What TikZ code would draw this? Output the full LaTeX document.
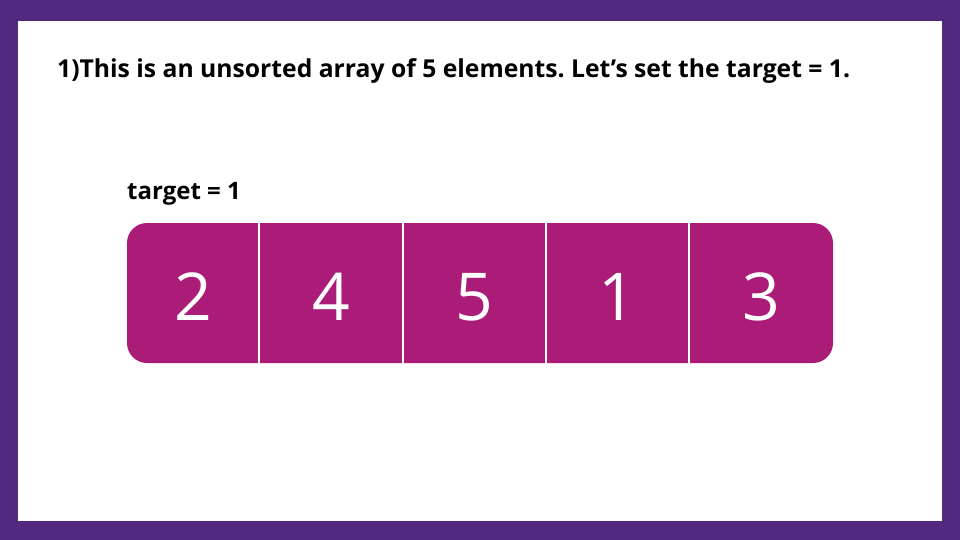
\documentclass[tikz,border=0pt]{standalone}
\usepackage{fontspec}
\setmainfont{Open Sans}
\newfontfamily\digitfont{Open Sans}
\definecolor{frame}{HTML}{512A7F}
\definecolor{cellc}{HTML}{AA1C78}
\frenchspacing
\begin{document}
\begin{tikzpicture}[x=1pt,y=-1pt,
  digit/.style={text=white, font=\digitfont\fontsize{66}{66}\selectfont, anchor=center},
  heading/.style={font=\bfseries\fontsize{24.7}{28}\selectfont, anchor=base west, inner sep=0pt},
  divider/.style={draw=white, line width=2pt}]
\useasboundingbox (0,0) rectangle (960,540);
\fill[frame] (0,0) rectangle (960,540);
\fill[white] (18,21) rectangle (942,521);
\node[heading] (title) at (57,78) {1)This is an unsorted array of 5 elements. Let’s set the target = 1.};
\node[heading, font=\bfseries\fontsize{24}{28}\selectfont] (tgt) at (127,199) {target = 1};
\fill[cellc, rounded corners=20pt] (127,223) rectangle (833,363);
\draw[divider] (259,223) -- (259,363);
\draw[divider] (403,223) -- (403,363);
\draw[divider] (546,223) -- (546,363);
\draw[divider] (689,223) -- (689,363);
\node[digit] (c1) at (193,297) {2};
\node[digit] (c2) at (331,297) {4};
\node[digit] (c3) at (474.5,297) {5};
\node[digit] (c4) at (617.5,297) {1};
\node[digit] (c5) at (761,297) {3};
\end{tikzpicture}
\end{document}
